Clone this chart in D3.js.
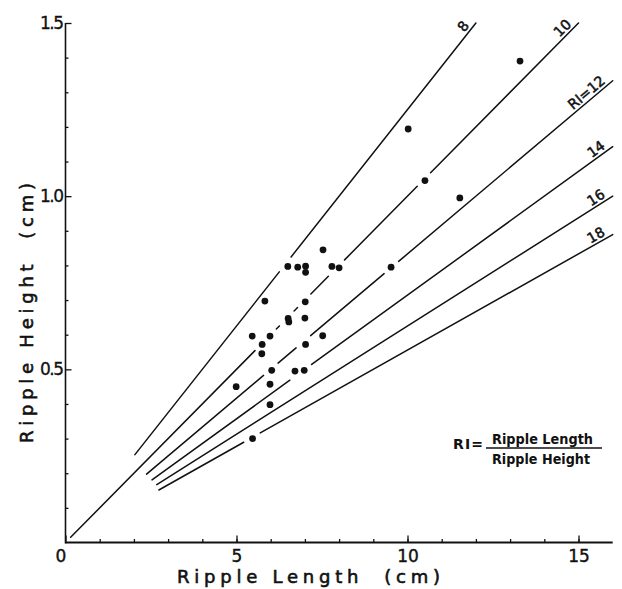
<!DOCTYPE html>
<html>
<head>
<meta charset="utf-8">
<script src="https://cdn.jsdelivr.net/npm/d3@7"></script>
<style>
  html, body { margin: 0; padding: 0; background: #fff; }
  svg { display: block; }
  text { font-family: "DejaVu Sans", sans-serif; fill: #111; }
</style>
</head>
<body>
<svg id="chart" width="622" height="589"></svg>
<script>
// Ripple index guide lines: H = L / RI
const riValues  = [8, 10, 12, 14, 16, 18];
const riLabels  = ["8", "10", "RI=12", "14", "16", "18"];
const lineStart = [2.03, 0.15, 2.37, 2.53, 2.67, 2.73];   // ripple length where each line starts (cm)
const lineEnd   = [12, 15, 16, 16, 16, 16];               // ripple length where each line ends (cm)

// Measured ripples
const rippleLength = [13.29, 10.02, 10.51, 11.53, 9.52, 7.53, 6.50, 6.79, 7.02, 7.02,
                      7.79, 8.00, 5.83, 7.01, 6.51, 6.53, 7.00, 5.46, 5.98, 7.52,
                      5.75, 7.02, 5.74, 6.03, 6.71, 6.98, 4.99, 5.98, 5.98, 5.47];
const rippleHeight = [1.39, 1.194, 1.045, 0.995, 0.795, 0.845, 0.797, 0.795, 0.798, 0.780,
                      0.797, 0.793, 0.697, 0.695, 0.647, 0.637, 0.648, 0.596, 0.596, 0.597,
                      0.572, 0.572, 0.545, 0.497, 0.495, 0.497, 0.450, 0.457, 0.398, 0.300];

// Axis ticks
const xMajorTicks = [0, 5, 10, 15];
const xMinorTicks = d3.range(1, 16);
const yMajorTicks = [0.5, 1.0, 1.5];
const yMinorTicks = [0.1, 0.2, 0.3, 0.4, 0.6, 0.7, 0.8, 0.9, 1.1, 1.2, 1.3, 1.4];

const svg = d3.select("#chart");
const x = d3.scaleLinear().domain([0, 16]).range([65.5, 612.7]);
const y = d3.scaleLinear().domain([0, 1.5]).range([542.5, 23]);

// ---- axes ----
const axisStyle = g => {
  g.selectAll("path.domain").remove();
  g.selectAll(".tick line").attr("stroke", "#111").attr("stroke-width", 1.3);
};

svg.append("g").attr("transform", `translate(0,${y(0)})`)
  .call(d3.axisBottom(x).tickValues(xMinorTicks).tickSize(-3.5).tickFormat(""))
  .call(axisStyle);
const xMaj = svg.append("g").attr("transform", `translate(0,${y(0)})`)
  .call(d3.axisBottom(x).tickValues(xMajorTicks).tickSize(-7).tickPadding(7).tickFormat(d3.format("d")))
  .call(axisStyle);
xMaj.selectAll(".tick text").attr("font-size", 17).attr("font-family", "DejaVu Sans")
  .attr("fill", "#111").attr("stroke", "#111").attr("stroke-width", 0.4)
  .attr("dx", d => d === 0 ? -5 : 0);

svg.append("g").attr("transform", `translate(${x(0)},0)`)
  .call(d3.axisRight(y).tickValues(yMinorTicks).tickSize(3).tickFormat(""))
  .call(axisStyle);
const yMaj = svg.append("g").attr("transform", `translate(${x(0)},0)`)
  .call(d3.axisLeft(y).tickValues(yMajorTicks).tickSize(-6).tickPadding(3).tickFormat(d3.format(".1f")))
  .call(axisStyle);
yMaj.selectAll(".tick text").attr("font-size", 17).attr("font-family", "DejaVu Sans")
  .attr("letter-spacing", -1.5).attr("fill", "#111").attr("stroke", "#111").attr("stroke-width", 0.3);

// axis lines
svg.append("line").attr("x1", x(0)).attr("x2", x(16)).attr("y1", y(0)).attr("y2", y(0))
  .attr("stroke", "#111").attr("stroke-width", 2.2);
svg.append("line").attr("x1", x(0)).attr("x2", x(0)).attr("y1", y(0) + 1).attr("y2", y(1.5))
  .attr("stroke", "#111").attr("stroke-width", 1.6);

// axis titles
svg.append("text").attr("x", 177).attr("y", 583)
  .attr("font-size", 18).attr("stroke", "#111").attr("stroke-width", 0.6)
  .attr("textLength", 263).attr("lengthAdjust", "spacing")
  .style("white-space", "pre")
  .text("Ripple Length  (cm)");

svg.append("text").attr("transform", "translate(33,443) rotate(-90)")
  .attr("font-size", 18).attr("stroke", "#111").attr("stroke-width", 0.6)
  .attr("textLength", 260).attr("lengthAdjust", "spacing")
  .style("white-space", "pre")
  .text("Ripple Height  (cm)");

// ---- RI lines, broken where they pass through a data point ----
const pts = rippleLength.map((l, i) => ({ l, h: rippleHeight[i] }));
const gapHalf = 9.5, gapReach = 5.2;   // px

const lines = riValues.map((ri, i) => {
  const sx = x(lineStart[i]), sy = y(lineStart[i] / ri);
  const ex = x(lineEnd[i]),   ey = y(lineEnd[i] / ri);
  const len = Math.hypot(ex - sx, ey - sy);
  const ux = (ex - sx) / len, uy = (ey - sy) / len;
  // gaps along the line around nearby points
  const gaps = [];
  pts.forEach(p => {
    const px = x(p.l) - sx, py = y(p.h) - sy;
    const t = px * ux + py * uy;
    const d = Math.abs(px * uy - py * ux);
    if (d < gapReach && t > -gapHalf && t < len + gapHalf) gaps.push([t - gapHalf, t + gapHalf]);
  });
  gaps.sort((a, b) => a[0] - b[0]);
  const segs = [];
  let cur = 0;
  gaps.forEach(([a, b]) => {
    if (a > cur) segs.push([cur, Math.min(a, len)]);
    cur = Math.max(cur, b);
  });
  if (cur < len) segs.push([cur, len]);
  return { ri, label: riLabels[i], sx, sy, ex, ey, ux, uy, segs };
});

const lg = svg.append("g");
lines.forEach(L => {
  lg.selectAll(null).data(L.segs).join("line")
    .attr("x1", s => L.sx + s[0] * L.ux).attr("y1", s => L.sy + s[0] * L.uy)
    .attr("x2", s => L.sx + s[1] * L.ux).attr("y2", s => L.sy + s[1] * L.uy)
    .attr("stroke", "#111").attr("stroke-width", 1.5).attr("stroke-linecap", "round");
});

// line labels, set along each line near its upper end
svg.append("g").selectAll("text").data(lines).join("text")
  .attr("transform", d => {
    const nx = d.uy, ny = -d.ux;          // normal pointing above the line
    const back = 6, off = 3;
    const px = d.ex - back * d.ux + off * nx, py = d.ey - back * d.uy + off * ny;
    const ang = Math.atan2(d.uy, d.ux) * 180 / Math.PI;
    return `translate(${px},${py}) rotate(${ang})`;
  })
  .attr("text-anchor", "end")
  .attr("font-size", 14).attr("stroke", "#111").attr("stroke-width", 0.5)
  .text(d => d.label);

// ---- data points ----
svg.append("g").selectAll("circle").data(pts).join("circle")
  .attr("cx", d => x(d.l)).attr("cy", d => y(d.h)).attr("r", 3.4).attr("fill", "#111");

// ---- RI definition ----
const f = svg.append("g");
f.append("text").attr("x", 453).attr("y", 449).attr("font-size", 14).attr("font-weight", "bold")
  .attr("textLength", 30).attr("lengthAdjust", "spacing").text("RI=");
f.append("text").attr("x", 492).attr("y", 444).attr("font-size", 14).attr("font-weight", "bold")
  .attr("textLength", 101).attr("lengthAdjust", "spacingAndGlyphs").text("Ripple Length");
f.append("line").attr("x1", 486).attr("x2", 602).attr("y1", 448).attr("y2", 448)
  .attr("stroke", "#111").attr("stroke-width", 1.4);
f.append("text").attr("x", 492).attr("y", 464).attr("font-size", 14).attr("font-weight", "bold")
  .attr("textLength", 98).attr("lengthAdjust", "spacingAndGlyphs").text("Ripple Height");
</script>
</body>
</html>
